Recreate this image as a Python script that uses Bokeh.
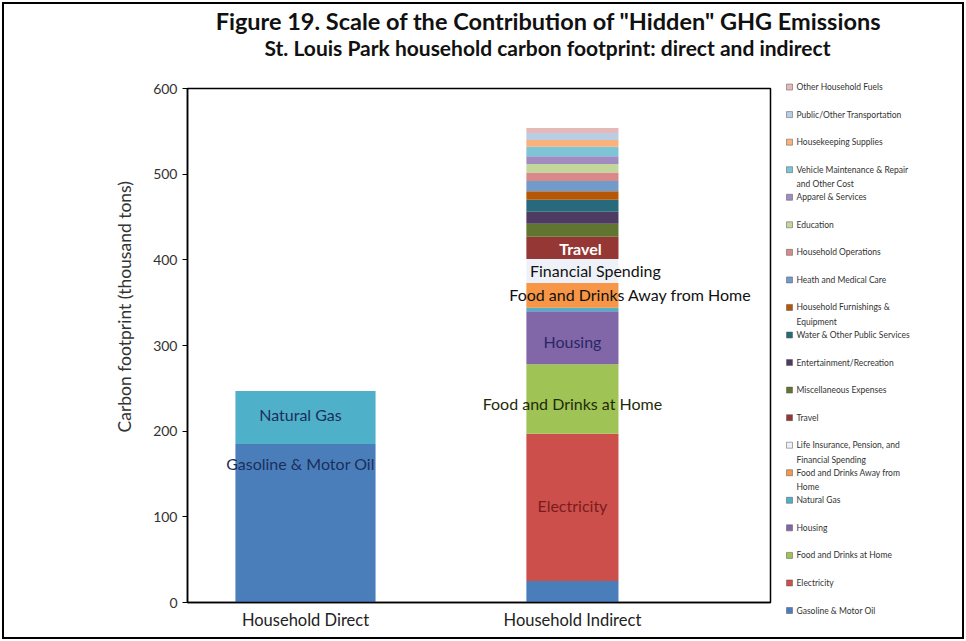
from bokeh.plotting import figure
from bokeh.layouts import column, row
from bokeh.models import ColumnDataSource, Range1d, FixedTicker, LabelSet, Title
from bokeh.core.properties import value
from bokeh.embed import file_html
from bokeh.resources import INLINE

# ---------------- data ----------------
title_text = 'Figure 19. Scale of the Contribution of "Hidden" GHG Emissions'
subtitle_text = "St. Louis Park household carbon footprint: direct and indirect"
y_label = "Carbon footprint (thousand tons)"

categories = ["Household Direct", "Household Indirect"]

series = [
    "Gasoline & Motor Oil", "Electricity", "Food and Drinks at Home", "Housing",
    "Natural Gas", "Food and Drinks Away from Home",
    "Life Insurance, Pension, and Financial Spending", "Travel",
    "Miscellaneous Expenses", "Entertainment/Recreation",
    "Water & Other Public Services", "Household Furnishings & Equipment",
    "Heath and Medical Care", "Household Operations", "Education",
    "Apparel & Services", "Vehicle Maintenance & Repair and Other Cost",
    "Housekeeping Supplies", "Public/Other Transportation", "Other Household Fuels",
]

legend_labels = [
    "Gasoline & Motor Oil", "Electricity", "Food and Drinks at Home", "Housing",
    "Natural Gas", "Food and Drinks Away from\nHome",
    "Life Insurance, Pension, and\nFinancial Spending", "Travel",
    "Miscellaneous Expenses", "Entertainment/Recreation",
    "Water & Other Public Services", "Household Furnishings &\nEquipment",
    "Heath and Medical Care", "Household Operations", "Education",
    "Apparel & Services", "Vehicle Maintenance & Repair\nand Other Cost",
    "Housekeeping Supplies", "Public/Other Transportation", "Other Household Fuels",
]

direct_values = [185, 0, 0, 0, 62, 0, 0, 0, 0, 0, 0, 0, 0, 0, 0, 0, 0, 0, 0, 0]
indirect_values = [25, 172, 81, 62, 4, 29, 28, 26, 15, 14, 14, 10, 12, 10, 10, 9, 11, 8, 8, 6]

y_ticks = [0, 100, 200, 300, 400, 500, 600]

bar_labels = ["Gasoline & Motor Oil", "Natural Gas", "Electricity",
              "Food and Drinks at Home", "Housing",
              "Food and Drinks Away from Home", "Financial Spending", "Travel"]
bar_label_cat = [0, 0, 1, 1, 1, 1, 1, 1]
bar_label_val = [162, 220, 113, 232, 305, 359, 387, 413]

# ---------------- styles ----------------
colors = [
    "#4a7ebb", "#cc4f4c", "#a0c356", "#8166a8", "#4fb0c9", "#f79646",
    "#eef2f8", "#953735", "#5f7530", "#4d3b62", "#276a7c", "#b65708",
    "#729aca", "#d98a88", "#c3d69b", "#a08cc0", "#7cc4d6", "#f9b27a",
    "#b9cde5", "#e6b9b8",
]
bar_widths = [0.525, 0.345]
bar_label_colors = ["#1c2f5a", "#1c2f5a", "#7b1c1c", "#1e2b0a", "#2b2766",
                    "#111111", "#111111", "#ffffff"]
bar_label_xoff = [-5, -5, 0, 0, 0, 58, 23, 8]
bar_label_styles = ["normal"] * 7 + ["bold"]
FONT = "Lato"

TOTAL_W = 958
HEAD_H = 72
MAIN_W, MAIN_H = 776, 561
LEG_W = TOTAL_W - MAIN_W


def blank_figure(w, h, xr, yr):
    f = figure(width=w, height=h, output_backend="svg", toolbar_location=None,
               x_range=xr, y_range=yr, x_axis_type=None, y_axis_type=None,
               min_border=0, tools="")
    f.frame_align = False
    f.outline_line_color = None
    f.background_fill_color = "white"
    f.border_fill_color = "white"
    f.xgrid.visible = False
    f.ygrid.visible = False
    return f


# ---------------- heading ----------------
head = blank_figure(TOTAL_W, HEAD_H, Range1d(0, TOTAL_W), Range1d(HEAD_H, 0))
head.text(x=[544], y=[16], text=[title_text], text_font=value(FONT),
          text_font_size="23.5px", text_font_style="bold", text_color="#111111",
          text_align="center", text_baseline="middle")
head.text(x=[543], y=[43], text=[subtitle_text], text_font=value(FONT),
          text_font_size="21px", text_font_style="bold", text_color="#111111",
          text_align="center", text_baseline="middle")

# ---------------- main chart ----------------
p = figure(width=MAIN_W, height=MAIN_H, output_backend="svg", toolbar_location=None,
           x_range=Range1d(-0.442, 1.742), y_range=Range1d(0, 600),
           min_border_left=183, min_border_right=10, min_border_top=12,
           min_border_bottom=35, tools="")
p.frame_align = False
p.background_fill_color = "white"
p.border_fill_color = "white"
p.outline_line_color = "black"
p.outline_line_width = 1.5
p.xgrid.visible = False
p.ygrid.visible = False

data = {"x": list(range(len(categories))), "w": bar_widths}
for i, s in enumerate(series):
    data[s] = [direct_values[i], indirect_values[i]]
src = ColumnDataSource(data)
p.vbar_stack(stackers=series, x="x", width="w", color=colors, source=src,
             line_color=None)

bl_src = ColumnDataSource(dict(
    x=bar_label_cat, y=bar_label_val, text=bar_labels,
    color=bar_label_colors, xoff=bar_label_xoff, style=bar_label_styles))
p.add_layout(LabelSet(x="x", y="y", text="text", source=bl_src,
                      x_offset="xoff", text_color="color",
                      text_font_style="style",
                      text_font=value(FONT), text_font_size="16px",
                      text_align="center", text_baseline="middle"))

p.yaxis.ticker = FixedTicker(ticks=y_ticks)
p.yaxis.major_label_text_font = FONT
p.yaxis.major_label_text_font_size = "14px"
p.yaxis.major_label_text_color = "#333333"
p.yaxis.major_tick_out = 5
p.yaxis.major_tick_in = 0
p.yaxis.minor_tick_out = 0
p.yaxis.minor_tick_in = 0
p.yaxis.axis_line_color = "black"
p.yaxis.axis_line_width = 1.5

# y-axis title (sits above the frame's middle, as in the original)
p.add_layout(Title(text=y_label, align="left", offset=170, standoff=31,
                   text_font=FONT, text_font_size="17.5px",
                   text_font_style="normal", text_color="#333333"), "left")

p.xaxis.ticker = FixedTicker(ticks=list(range(len(categories))))
p.xaxis.major_label_overrides = {i: c for i, c in enumerate(categories)}
p.xaxis.major_label_text_font = FONT
p.xaxis.major_label_text_font_size = "16.5px"
p.xaxis.major_label_text_color = "#222222"
p.xaxis.major_tick_out = 0
p.xaxis.major_tick_in = 0
p.xaxis.minor_tick_out = 0
p.xaxis.minor_tick_in = 0
p.xaxis.major_label_standoff = 7
p.xaxis.axis_line_color = "black"
p.xaxis.axis_line_width = 1.5

# ---------------- legend ----------------
n = len(series)
leg = blank_figure(LEG_W, MAIN_H, Range1d(0, LEG_W), Range1d(MAIN_H, 0))
leg_first, leg_step = 534, 27.55
slot_y = [leg_first - leg_step * i for i in range(n)]
leg_src = ColumnDataSource(dict(y=slot_y, yt=[y - 5 for y in slot_y],
                                label=legend_labels, color=colors))
leg.scatter(x=9, y="y", marker="square", size=6, fill_color="color",
            line_color="#555555", line_width=0.5, source=leg_src)
leg.text(x=16, y="yt", text="label", source=leg_src, text_color="#333333",
         text_font=value(FONT), text_font_size="8.5px", text_line_height=1.45,
         text_align="left", text_baseline="top")

layout = column(head, row(p, leg))
layout.styles = {"position": "absolute", "left": "2px", "top": "2px",
                 "border": "2px solid black", "background": "white"}

open("out.html", "w").write(file_html(layout, INLINE))
